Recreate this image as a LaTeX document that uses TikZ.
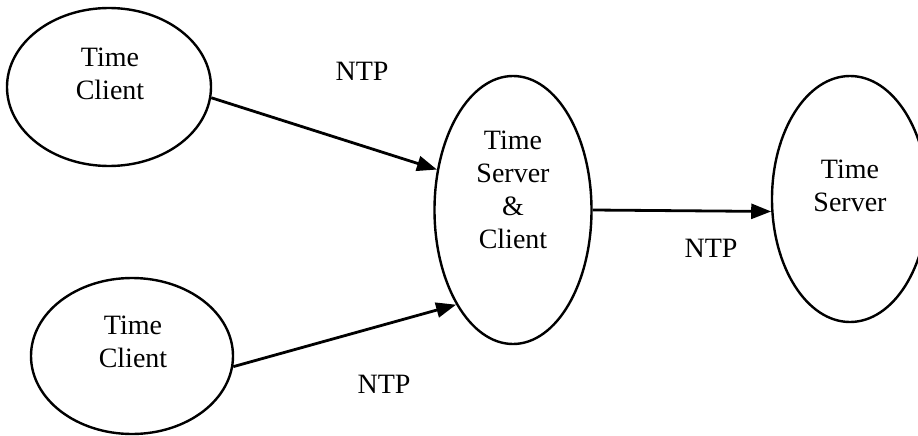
\documentclass[tikz,border=0pt]{standalone}
\usepackage{fontspec}
\setmainfont{Liberation Serif}
\usetikzlibrary{shapes.geometric,arrows.meta}
\begin{document}
\begin{tikzpicture}[x=1pt,y=-1pt,
  oval/.style={draw,ellipse,line width=2.4pt,inner sep=0pt},
  txt/.style={align=center,inner sep=0pt,font=\fontsize{28}{33}\selectfont},
  conn/.style={line width=2.8pt,-{Triangle[length=20pt,width=15pt]}}]
\useasboundingbox (0,0) rectangle (918,436);
\node[oval,minimum width=204pt,minimum height=158pt] (e1) at (109,87) {};
\node[oval,minimum width=202pt,minimum height=156pt] (e2) at (132,356) {};
\node[oval,minimum width=157pt,minimum height=268pt] (e3) at (513,210) {};
\node[oval,minimum width=156pt,minimum height=246pt] (e4) at (850,199) {};
\node[txt] (t1) at (110,73.5) {Time\\Client};
\node[txt] (t2) at (133,341.5) {Time\\Client};
\node[txt] (t3) at (513,190) {Time\\Server\\\&\\Client};
\node[txt] (t4) at (850,186) {Time\\Server};
\node[txt] (l1) at (362,71) {NTP};
\node[txt] (l2) at (711,248) {NTP};
\node[txt] (l3) at (384,384) {NTP};
\draw[conn] (e1.-6) -- (e3.152);
\draw[conn] (e2.-6) -- (e3.-121);
\draw[conn] (e3.east) -- (e4.189);
\end{tikzpicture}
\end{document}
